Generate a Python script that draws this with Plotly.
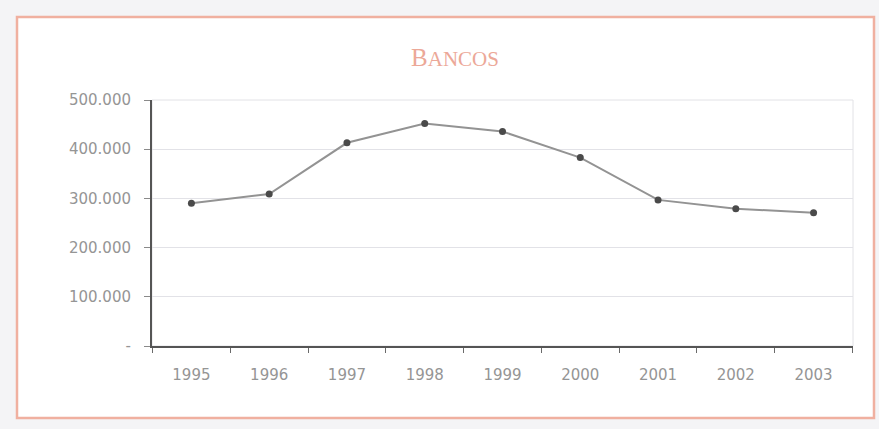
import plotly.graph_objects as go

# Número de bancos por año
years = ["1995", "1996", "1997", "1998", "1999", "2000", "2001", "2002", "2003"]
values = [290000, 309000, 413000, 452000, 436000, 383000, 297000, 279000, 271000]

y_tickvals = [0, 100000, 200000, 300000, 400000, 500000]
y_ticktext = ["-", "100.000", "200.000", "300.000", "400.000", "500.000"]

W, H = 879, 429
ML, MR, MT, MB = 152, 26, 100, 83
PW, PH = W - ML - MR, H - MT - MB


def px_x(x):
    return (x - ML) / PW


def px_y(y):
    return 1 - (y - MT) / PH


fig = go.Figure()

fig.add_trace(go.Scatter(
    x=years,
    y=values,
    mode="lines+markers",
    line=dict(color="#939393", width=2),
    marker=dict(color="#4a4a4a", size=7, symbol="circle"),
    showlegend=False,
    hoverinfo="x+y",
))

tick_font = dict(family="'DejaVu Sans', sans-serif", size=15, color="#959595")

fig.update_layout(
    width=W,
    height=H,
    margin=dict(l=ML, r=MR, t=MT, b=MB),
    paper_bgcolor="#f4f4f6",
    plot_bgcolor="rgba(0,0,0,0)",
    title=dict(
        text="B<span style='font-size:21px'>ANCOS</span>",
        x=455 / W,
        xanchor="center",
        y=1 - 57 / H,
        yanchor="middle",
        font=dict(family="'Liberation Serif', 'DejaVu Serif', serif", size=25, color="#eca898"),
    ),
    xaxis=dict(
        type="category",
        tickson="boundaries",
        ticks="outside",
        ticklen=5,
        tickcolor="#6a6a6a",
        showline=True,
        linecolor="#555555",
        linewidth=2,
        showgrid=False,
        tickfont=tick_font,
        ticklabelstandoff=14,
        fixedrange=True,
    ),
    yaxis=dict(
        range=[0, 500000],
        tickvals=y_tickvals,
        ticktext=y_ticktext,
        ticks="outside",
        ticklen=6,
        tickcolor="#8a8a8a",
        showline=True,
        linecolor="#555555",
        linewidth=2,
        showgrid=True,
        gridcolor="#e2e2e7",
        gridwidth=1,
        zeroline=False,
        tickfont=tick_font,
        ticklabelstandoff=10,
        fixedrange=True,
    ),
)

# Marco exterior y borde del área de trazado
fig.add_shape(
    type="rect", xref="paper", yref="paper", layer="below",
    x0=px_x(17), x1=px_x(874), y0=px_y(418), y1=px_y(17),
    line=dict(color="#f0b0a0", width=2.5),
    fillcolor="#ffffff",
)
fig.add_shape(
    type="rect", xref="paper", yref="paper", layer="below",
    x0=0, x1=1, y0=0, y1=1,
    line=dict(color="#e2e2e6", width=1),
    fillcolor="#ffffff",
)

fig.write_html("out.html")
